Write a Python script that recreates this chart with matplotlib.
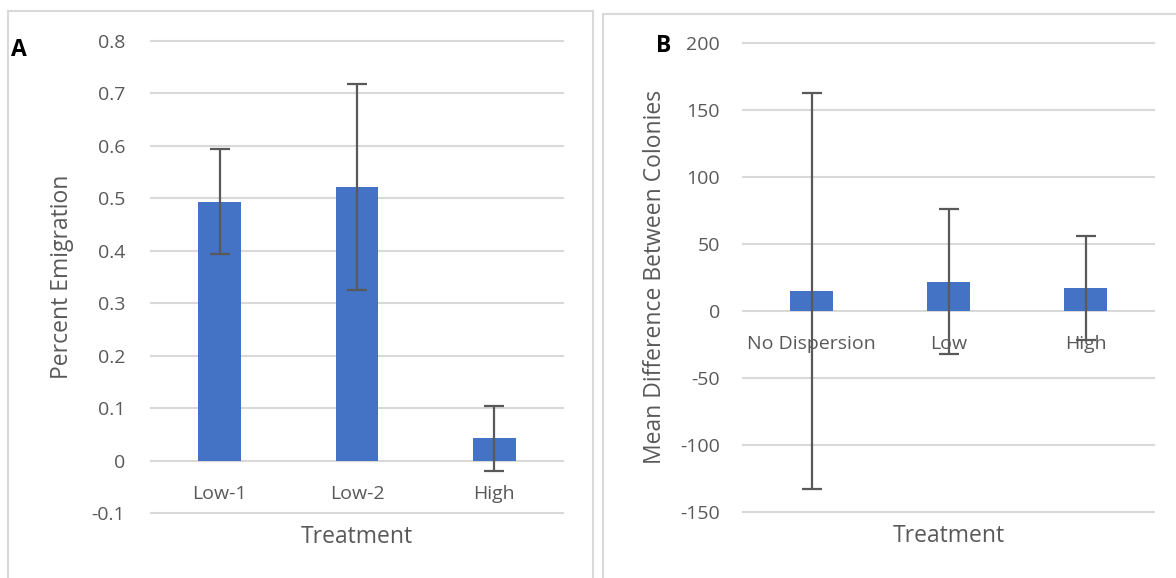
import matplotlib
matplotlib.use("Agg")
import matplotlib.pyplot as plt
from matplotlib.patches import Rectangle

# ── data ────────────────────────────────────────────────────────────────
treat_a = ["Low-1", "Low-2", "High"]
emigration = [0.493, 0.521, 0.043]
emigration_err = [0.100, 0.196, 0.062]
ticks_a = [-0.1, 0, 0.1, 0.2, 0.3, 0.4, 0.5, 0.6, 0.7, 0.8]

treat_b = ["No Dispersion", "Low", "High"]
mean_diff = [15, 22, 17]
mean_diff_err = [148, 54.5, 39]
ticks_b = [-150, -100, -50, 0, 50, 100, 150, 200]

BAR = "#4472C4"
ERR = "#595959"
GRID = "#D9D9D9"
TXT = "#595959"
FONT = "Open Sans"
TICK_FS = 14
TITLE_FS = 16.5

W, H = 1176, 578
plt.rcParams.update({"font.family": FONT, "font.size": TICK_FS})

fig = plt.figure(figsize=(W / 100, H / 100), dpi=100)


def px_axes(left, top, right, bottom):
    return fig.add_axes([left / W, 1 - bottom / H, (right - left) / W, (bottom - top) / H])


def panel_border(left, top, right, bottom):
    fig.patches.append(Rectangle((left / W, 1 - bottom / H), (right - left) / W, (bottom - top) / H,
                                 transform=fig.transFigure, fill=False, edgecolor=GRID, linewidth=1.5))


def draw_panel(ax, cats, vals, errs, ticks, pad):
    x = list(range(len(cats)))
    for t in ticks:
        ax.axhline(t, color=GRID, linewidth=1.5, zorder=0.5, clip_on=False)
    ax.bar(x, vals, width=0.31, color=BAR, zorder=2)
    ax.errorbar(x, vals, yerr=errs, fmt="none", ecolor=ERR, elinewidth=1.6,
                capsize=7, capthick=1.6, zorder=4)
    ax.set_xlim(-0.5, len(cats) - 0.5)
    ax.set_ylim(ticks[0], ticks[-1])
    ax.set_yticks(ticks)
    ax.set_yticklabels(["0" if t == 0 else f"{t:g}" for t in ticks])
    ax.set_xticks([])
    ax.tick_params(axis="y", length=0, pad=pad, labelcolor=TXT, labelsize=TICK_FS)
    for s in ax.spines.values():
        s.set_visible(False)
    for i, c in enumerate(cats):
        ax.annotate(c, xy=(i, 0), xycoords="data", xytext=(0, -27.5), textcoords="offset points",
                    ha="center", va="baseline", color=TXT, fontsize=TICK_FS, zorder=3)


# ── Panel A ─────────────────────────────────────────────────────────────
panel_border(8, 11, 593, 640)
ax_a = px_axes(151, 40.7, 563, 513.2)
draw_panel(ax_a, treat_a, emigration, emigration_err, ticks_a, pad=18.5)
fig.text(357 / W, 1 - 543.3 / H, "Treatment", ha="center", va="baseline", color=TXT, fontsize=TITLE_FS)
fig.text(62 / W, 1 - 277 / H, "Percent Emigration", rotation=90, ha="center", va="center",
         color=TXT, fontsize=TITLE_FS)
fig.text(11 / W, 1 - 56 / H, "A", ha="left", va="baseline", color="black", fontsize=16.5, fontweight="bold")

# ── Panel B ─────────────────────────────────────────────────────────────
panel_border(603, 14, 1240, 640)
ax_b = px_axes(743, 43.3, 1154, 511.7)
draw_panel(ax_b, treat_b, mean_diff, mean_diff_err, ticks_b, pad=16.5)
fig.text(948.5 / W, 1 - 541.7 / H, "Treatment", ha="center", va="baseline", color=TXT, fontsize=TITLE_FS)
fig.text(655 / W, 1 - 277 / H, "Mean Difference Between Colonies", rotation=90, ha="center",
         va="center", color=TXT, fontsize=TITLE_FS)
fig.text(656 / W, 1 - 52.5 / H, "B", ha="left", va="baseline", color="black", fontsize=16.5, fontweight="bold")

fig.savefig("out.png", dpi=100)
